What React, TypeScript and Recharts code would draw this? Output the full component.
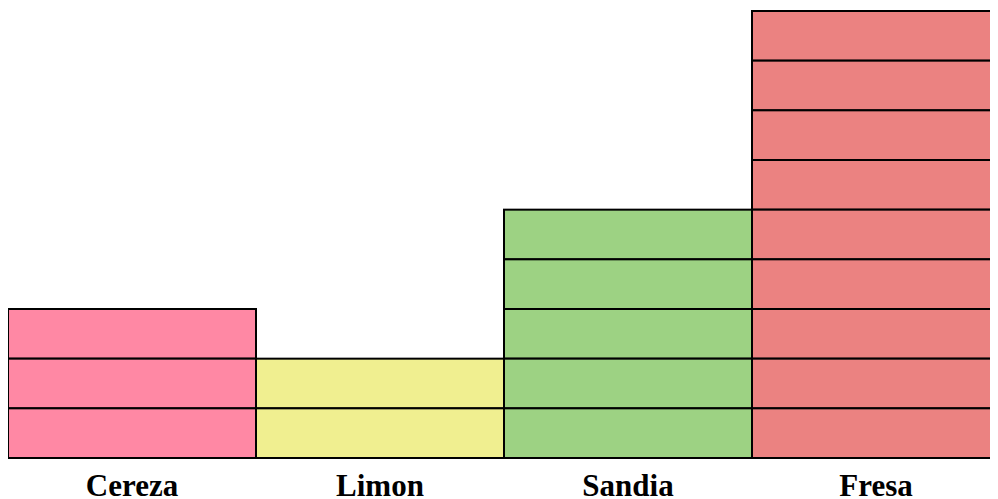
import React from "react";
import { BarChart, Bar, XAxis, YAxis, Cell } from "recharts";

const categories = ["Cereza", "Limon", "Sandia", "Fresa"];
const values = [3, 2, 5, 9];
const colors = ["#FF88A4", "#F0EF90", "#9DD283", "#EB8281"];

const data = categories.map((name, i) => ({ name, value: values[i] }));

const StackedUnits = (props: any) => {
  const { x, y, width, height, fill, payload } = props;
  const n = payload.value;
  const unit = height / n;
  const rects = [];
  for (let k = 0; k < n; k++) {
    rects.push(
      <rect
        key={k}
        x={x}
        y={y + k * unit}
        width={width}
        height={unit}
        fill={fill}
        stroke="#000"
        strokeWidth={2}
      />
    );
  }
  return <g>{rects}</g>;
};

const Tick = (props: any) => {
  const { x, y, payload } = props;
  return (
    <text
      x={x}
      y={y + 30}
      textAnchor="middle"
      fontFamily="'Liberation Serif', 'Times New Roman', serif"
      fontWeight="bold"
      fontSize={31}
      fill="#000"
    >
      {payload.value}
    </text>
  );
};

export default function App() {
  return (
    <BarChart
      width={992}
      height={491}
      data={data}
      margin={{ top: 3, right: 0, left: 0, bottom: 0 }}
      barCategoryGap={0}
    >
      <XAxis
        dataKey="name"
        height={41}
        axisLine={false}
        tickLine={false}
        tick={<Tick />}
        interval={0}
      />
      <YAxis hide domain={[0, 9]} />
      <Bar dataKey="value" isAnimationActive={false} shape={<StackedUnits />}>
        {data.map((d, i) => (
          <Cell key={d.name} fill={colors[i]} />
        ))}
      </Bar>
    </BarChart>
  );
}
